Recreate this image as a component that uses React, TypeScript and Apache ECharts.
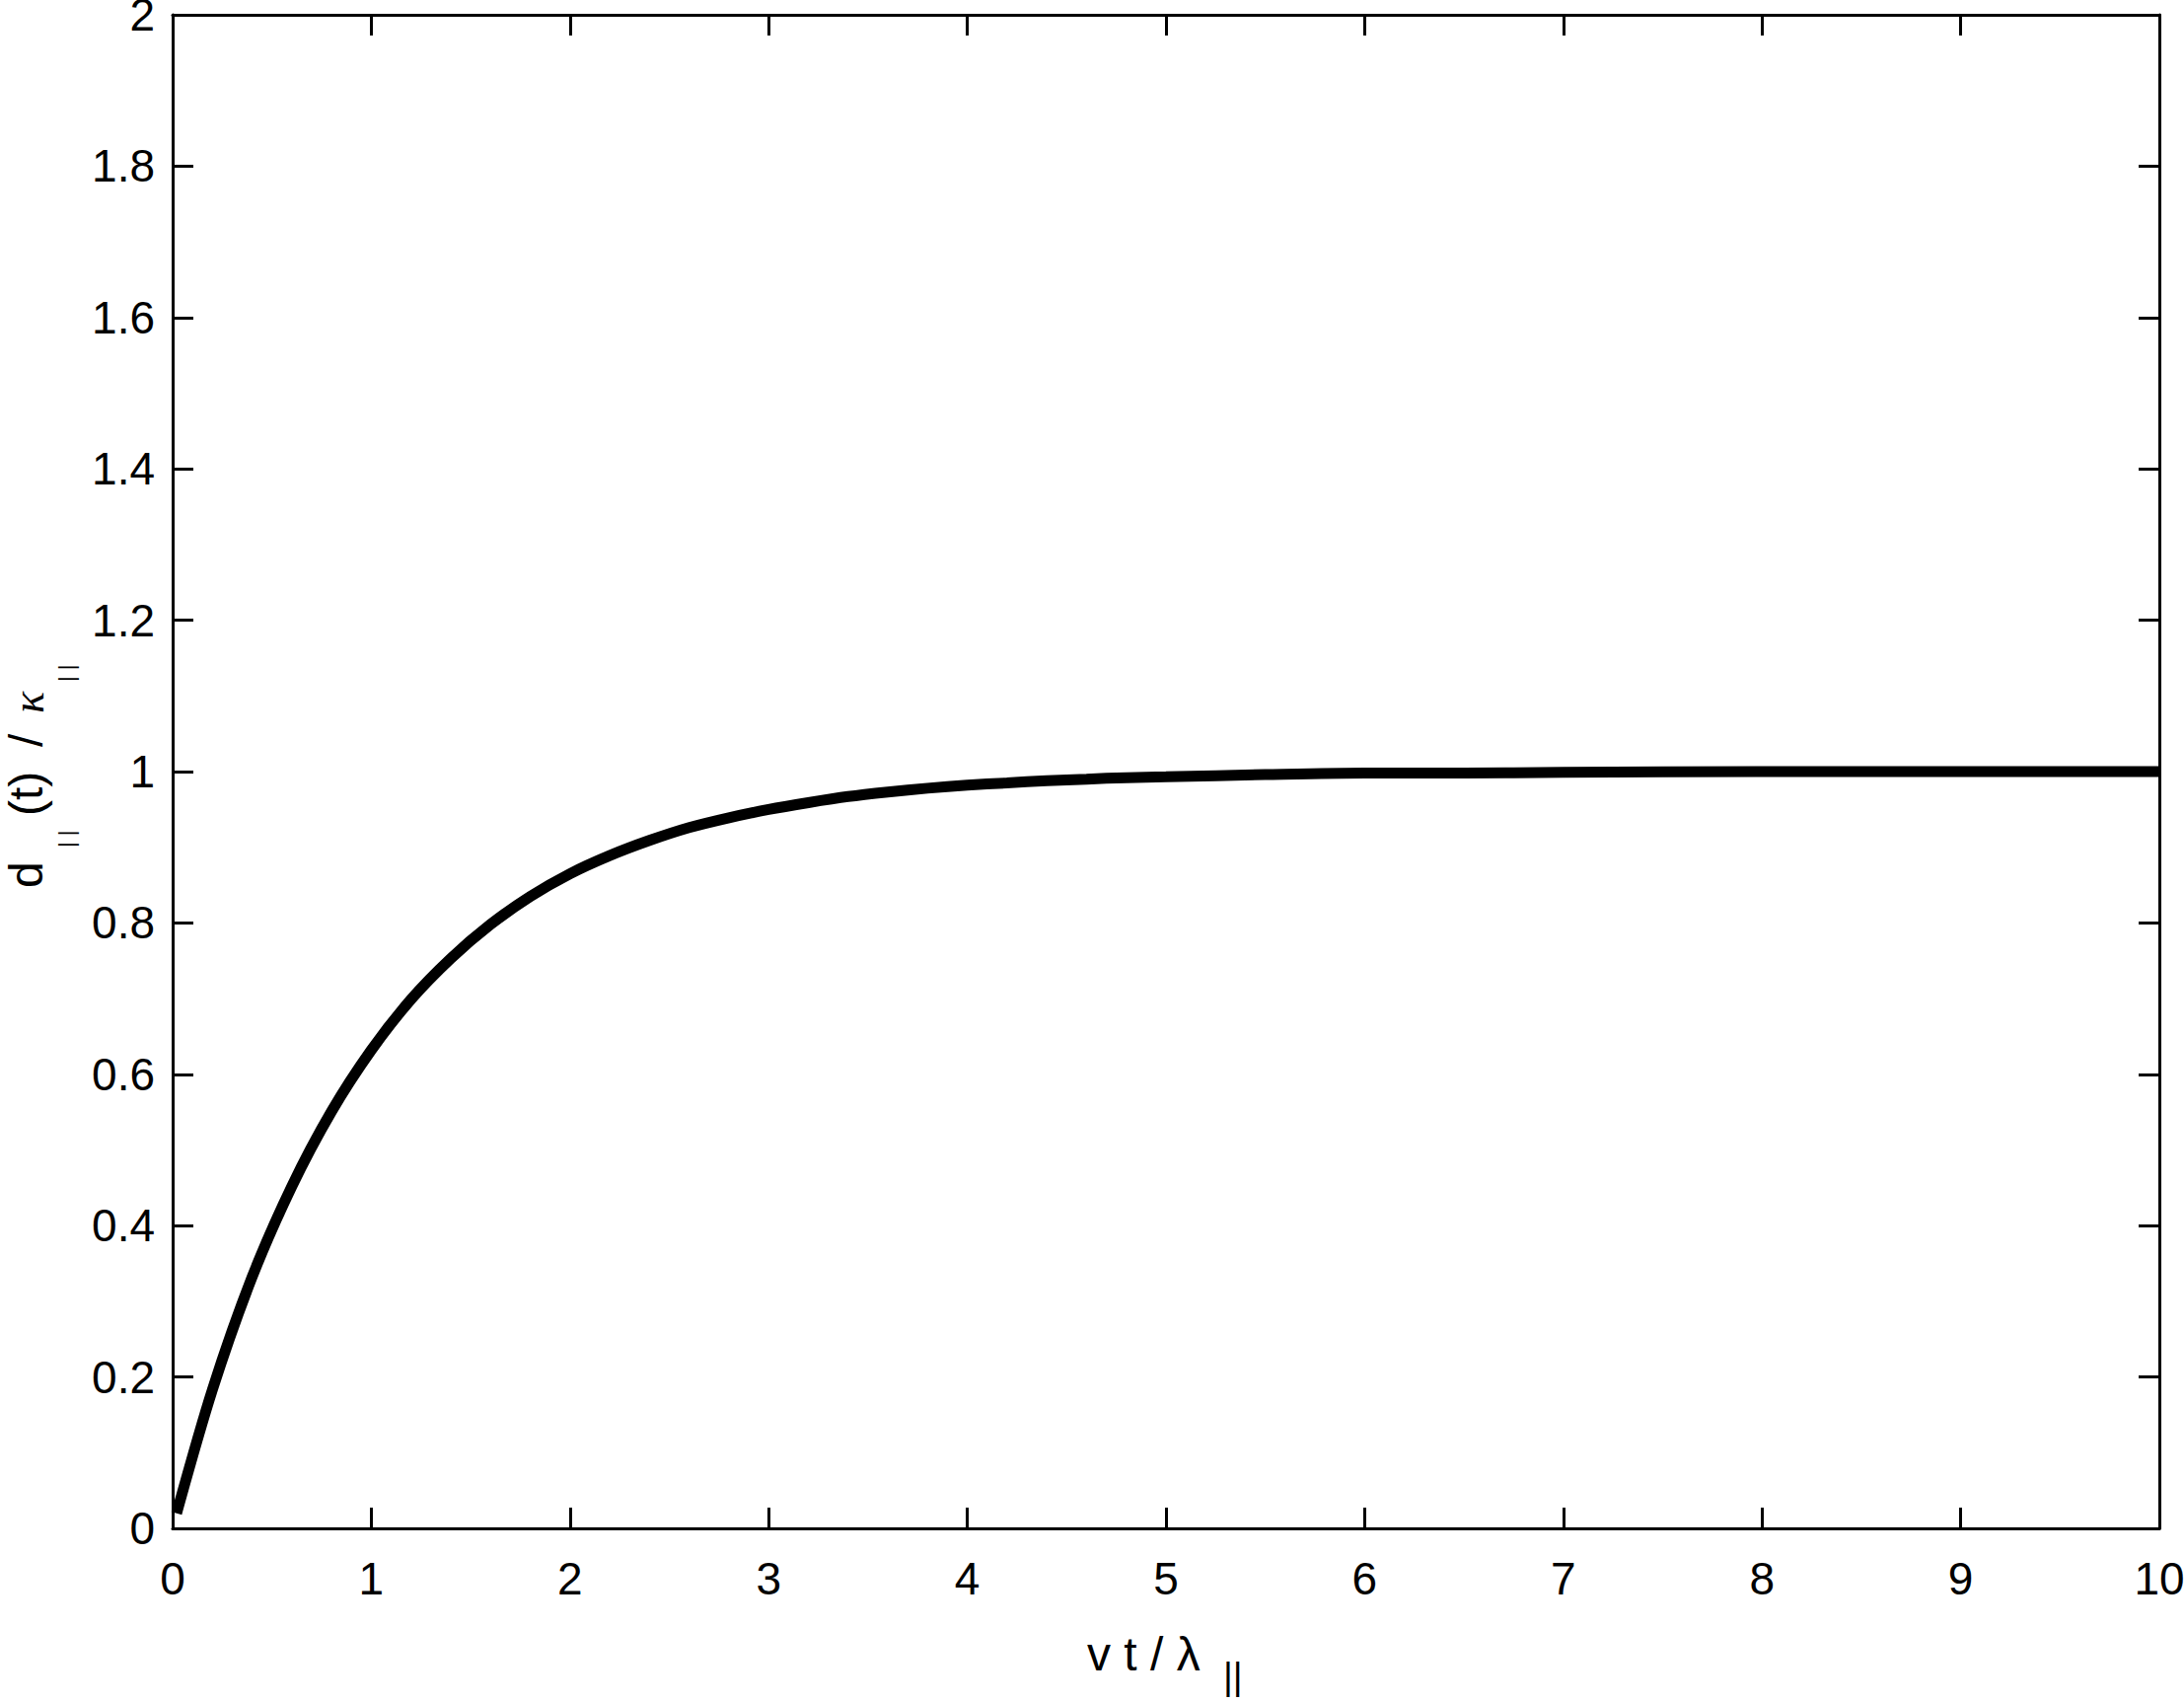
import React, { useEffect, useRef } from "react";
import * as echarts from "echarts";

// x = v t / λ||, y = d||(t) / κ||
const xValues = [0.02, 0.2, 0.4, 0.6, 0.8, 1.0, 1.2, 1.4, 1.6, 1.8, 2.0, 2.2, 2.4, 2.6, 2.8, 3.0, 3.2, 3.4, 3.6, 3.8, 4.0, 4.2, 4.4, 4.6, 4.8, 5.0, 5.5, 6.0, 6.5, 7, 8, 9, 10];
const yValues = [0.02, 0.183, 0.332, 0.452, 0.551, 0.632, 0.699, 0.753, 0.798, 0.835, 0.865, 0.889, 0.909, 0.926, 0.939, 0.95, 0.959, 0.967, 0.973, 0.978, 0.982, 0.985, 0.988, 0.99, 0.992, 0.993, 0.996, 0.998, 0.998, 0.999, 1.0, 1.0, 1.0];

const xMin = 0, xMax = 10, xStep = 1;
const yMin = 0, yMax = 2, yStep = 0.2;

const FONT = "'Liberation Sans', Arial, Helvetica, sans-serif";
const SERIF = "'Liberation Serif', 'DejaVu Serif', serif";

export default function App() {
  const ref = useRef<HTMLDivElement>(null);
  useEffect(() => {
    if (!ref.current) return;
    const chart = echarts.init(ref.current, undefined, { renderer: "svg" });
    const line = { lineStyle: { color: "#000", width: 3 } };
    const tick = { inside: true, length: 21, lineStyle: { color: "#000", width: 3 } };
    const lbl = { color: "#000", fontSize: 46, fontFamily: FONT };
    const mkX = (pos: string, show: boolean) => ({
      type: "value", position: pos, min: xMin, max: xMax, interval: xStep,
      axisLine: { show: true, onZero: false, ...line }, axisTick: tick,
      axisLabel: { show, ...lbl, margin: 28 }, splitLine: { show: false },
    });
    const mkY = (pos: string, show: boolean) => ({
      type: "value", position: pos, min: yMin, max: yMax, interval: yStep,
      axisLine: { show: true, onZero: false, ...line }, axisTick: tick,
      axisLabel: { show, ...lbl, margin: 18, lineHeight: 20, padding: [15, 0, 0, 0] }, splitLine: { show: false },
    });
    const data = xValues.map((x, i) => [x, yValues[i]]);
    chart.setOption({
      animation: false,
      backgroundColor: "#fff",
      grid: { left: 175, right: 25, top: 15, bottom: 176, containLabel: false, outerBoundsMode: "none" },
      xAxis: [mkX("bottom", true), mkX("top", false)],
      yAxis: [mkY("left", true), mkY("right", false)],
      series: [{
        type: "line", data, showSymbol: false, symbol: "none",
        smooth: 0.3,
        lineStyle: { color: "#000", width: 11, cap: "butt" },
        clip: true,
      }],
      graphic: [
        { type: "text", left: 1102, top: 1652, style: { text: "v t / λ", font: `48px ${FONT}`, fill: "#000" } },
        { type: "text", left: 1240, top: 1680, style: { text: "||", font: `38px ${FONT}`, fill: "#000" } },
        {
          type: "group", x: 43, y: 900, rotation: Math.PI / 2,
          children: [
            { type: "text", x: 0, y: -16.6, style: { text: "d", font: `48px ${FONT}`, fill: "#000", verticalAlign: "middle", align: "left" } },
            { type: "text", x: 41, y: 24, style: { text: "| |", font: `22px ${FONT}`, fill: "#000", verticalAlign: "middle", align: "left" } },
            { type: "text", x: 73, y: -16.6, style: { text: "(t)", font: `48px ${FONT}`, fill: "#000", verticalAlign: "middle", align: "left" } },
            { type: "text", x: 143, y: -16.6, style: { text: "/", font: `48px ${FONT}`, fill: "#000", verticalAlign: "middle", align: "left" } },
            { type: "text", x: 177, y: -15, style: { text: "κ", font: `italic 46px ${SERIF}`, fill: "#000", verticalAlign: "middle", align: "left" } },
            { type: "text", x: 209, y: 24, style: { text: "| |", font: `22px ${FONT}`, fill: "#000", verticalAlign: "middle", align: "left" } },
          ],
        },
      ],
    });
    return () => chart.dispose();
  }, []);
  return <div ref={ref} style={{ position: "absolute", left: 0, top: 0, width: 2214, height: 1725 }} />;
}
